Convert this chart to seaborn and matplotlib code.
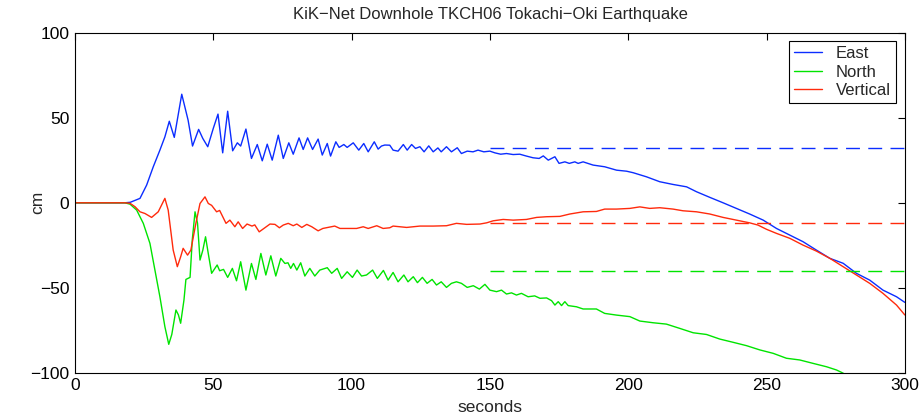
import numpy as np
import pandas as pd
import matplotlib
matplotlib.use("Agg")
import matplotlib.pyplot as plt
import seaborn as sns
from matplotlib.lines import Line2D

# Displacement traces, (seconds, cm) pairs
east = [(0, 0), (18, 0), (20, 0.3), (23.5, 2.6), (25.9, 10.4), (28.3, 21.2), (30.7, 31.0),
        (32.5, 38.8), (34.1, 48.0), (35.9, 38.5), (38.6, 63.9), (40.9, 48.6), (42.5, 33.4),
        (44.7, 43.2), (46.2, 37.9), (48.0, 33.0), (50.0, 43.8), (51.7, 52.2), (53.4, 29.4),
        (55.2, 53.9), (57.0, 30.6), (58.7, 35.3), (59.9, 33.4), (61.8, 43.4), (63.8, 26.1),
        (65.9, 34.3), (67.7, 24.7), (69.5, 34.5), (71.3, 25.1), (73.5, 39.8), (75.3, 26.1),
        (77.3, 35.3), (78.9, 28.6), (81.0, 38.2), (82.5, 31.4), (84.1, 38.2), (85.9, 31.4),
        (87.9, 37.5), (89.4, 28.1), (91.2, 34.9), (92.4, 27.5), (94.3, 35.9), (95.5, 32.6),
        (97.2, 34.3), (98.4, 32.6), (100.6, 35.3), (102.6, 31.0), (104.4, 34.9), (106.0, 30.0),
        (108.2, 35.9), (109.6, 31.6), (110.8, 33.4), (112.0, 34.0), (113.8, 33.9), (115.0, 31.0),
        (116.8, 30.4), (118.7, 34.3), (120.1, 31.0), (121.7, 34.3), (123.1, 32.0), (124.7, 33.0),
        (126.2, 30.0), (127.9, 33.5), (129.5, 30.0), (131.2, 32.3), (132.4, 30.0), (134.3, 33.0),
        (136.1, 30.0), (138.2, 32.4), (139.7, 29.0), (141.8, 30.4), (143.9, 30.0), (145.7, 31.0),
        (147.8, 30.0), (150.0, 30.4), (151.8, 29.4), (153.9, 28.6), (156.0, 29.0), (158.4, 28.4),
        (160.8, 28.6), (163.2, 27.5), (165.6, 26.5), (167.8, 26.1), (169.3, 27.6), (171.1, 25.1),
        (173.5, 27.1), (175.0, 23.2), (177.1, 24.1), (178.7, 23.2), (180.7, 24.1), (181.9, 23.2),
        (183.7, 24.1), (187.3, 22.2), (191.5, 21.2), (195.8, 19.2), (199.4, 18.6), (201.8, 17.7),
        (206.6, 15.3), (211.4, 12.4), (216.2, 10.8), (221.1, 9.4), (224.7, 6.5), (229.5, 3.2),
        (234.3, 0.0), (239.1, -3.3), (243.9, -6.6), (248.8, -10.2), (253.6, -15.1), (258.4, -19.0),
        (263.2, -22.9), (268.0, -27.8), (272.9, -32.7), (277.7, -35.6), (282.5, -41.5),
        (287.3, -45.5), (292.1, -51.4), (297.0, -55.3), (300.0, -58.6)]

north = [(0, 0), (18, 0), (19.9, -0.8), (22.3, -4.3), (24.7, -12.1), (27.1, -23.9), (28.9, -39.6),
         (30.7, -55.3), (32.5, -72.9), (33.9, -83.3), (35.0, -77.5), (36.5, -63.1), (37.4, -66.0),
         (38.2, -70.9), (39.4, -57.2), (40.1, -45.1), (41.6, -43.9), (42.4, -21.9), (43.4, -5.3),
         (44.3, -12.0), (45.2, -33.7), (46.2, -28.0), (47.2, -20.0), (48.2, -30.0), (49.4, -41.5),
         (51.4, -36.6), (52.3, -40.0), (53.7, -39.2), (55.2, -43.9), (56.9, -38.6), (58.4, -45.9),
         (59.9, -34.7), (61.8, -51.4), (63.8, -35.7), (65.4, -45.1), (67.2, -29.8), (69.0, -42.5),
         (70.8, -31.2), (72.6, -43.1), (74.4, -32.7), (75.9, -35.7), (77.0, -35.3), (78.0, -38.6),
         (79.0, -35.7), (80.2, -39.6), (81.6, -35.3), (83.1, -43.1), (84.9, -38.6), (86.7, -43.1),
         (88.5, -39.6), (91.2, -38.2), (92.8, -41.5), (94.8, -38.6), (96.4, -44.5), (98.4, -40.6),
         (100.3, -43.9), (102.0, -39.6), (103.6, -43.1), (105.4, -42.5), (107.6, -39.6),
         (109.3, -44.5), (111.5, -39.8), (113.2, -45.5), (115.0, -41.0), (116.8, -46.5),
         (118.9, -42.5), (120.4, -46.5), (122.3, -43.5), (123.8, -47.0), (125.6, -43.9),
         (127.3, -47.4), (129.1, -45.1), (130.7, -48.4), (132.4, -46.5), (134.3, -49.8),
         (136.1, -47.4), (137.9, -46.5), (139.7, -47.4), (141.8, -49.8), (144.0, -48.8),
         (146.2, -50.8), (148.2, -48.0), (150.0, -51.4), (152.4, -52.3), (154.2, -51.4),
         (156.0, -53.7), (157.8, -53.0), (159.6, -54.3), (161.4, -53.3), (163.8, -55.3),
         (166.2, -54.8), (168.1, -56.2), (170.5, -56.0), (172.3, -57.6), (173.5, -60.2),
         (174.7, -58.2), (175.9, -60.5), (177.1, -58.2), (178.3, -60.5), (181.3, -61.2),
         (183.7, -62.5), (188.5, -62.5), (191.5, -65.1), (195.8, -66.1), (200.6, -67.0),
         (204.2, -69.6), (209.0, -70.6), (213.8, -71.4), (218.6, -73.9), (223.5, -76.5),
         (228.3, -77.5), (233.1, -80.2), (237.9, -82.1), (242.8, -84.1), (247.6, -86.6),
         (252.4, -88.6), (257.2, -91.5), (262.0, -92.5), (266.8, -94.5), (271.7, -96.5),
         (275.3, -98.4), (277.1, -99.8), (278.5, -101.0)]

vertical = [(0, 0), (18, 0), (19.9, -0.3), (21.7, -2.3), (23.5, -5.3), (25.3, -6.3), (27.7, -8.6),
            (30.1, -5.3), (32.5, 2.6), (33.7, -4.3), (35.5, -27.8), (37.0, -37.6), (38.2, -31.8),
            (39.1, -26.8), (40.7, -30.8), (41.9, -27.8), (43.7, -12.1), (45.2, -0.4), (47.0, 3.5),
            (48.2, -0.4), (49.4, -1.5), (51.2, -5.3), (52.3, -4.5), (54.6, -12.1), (56.0, -10.2),
            (57.8, -14.1), (59.0, -11.2), (60.6, -15.1), (62.2, -12.5), (64.0, -13.7), (65.0, -13.0),
            (66.6, -17.1), (68.3, -15.1), (70.5, -12.5), (72.3, -12.7), (73.9, -14.7), (75.3, -13.1),
            (77.1, -12.1), (78.9, -13.5), (80.2, -12.5), (82.0, -14.5), (83.8, -12.7), (85.6, -14.1),
            (87.9, -16.5), (89.6, -15.1), (93.9, -13.7), (95.8, -15.1), (98.2, -15.1),
            (101.8, -15.1), (104.2, -14.1), (106.0, -15.1), (109.1, -13.5), (111.4, -15.1),
            (113.8, -14.7), (115.0, -13.7), (119.9, -14.5), (124.7, -13.7), (129.5, -13.7),
            (134.3, -13.5), (137.9, -12.1), (141.6, -12.7), (146.4, -12.5), (148.8, -11.8),
            (151.2, -10.6), (154.8, -9.8), (158.4, -10.2), (163.2, -9.8), (166.9, -8.6),
            (170.5, -8.2), (175.3, -8.0), (178.9, -6.6), (183.7, -5.3), (188.5, -5.1),
            (191.5, -3.7), (195.8, -3.7), (200.6, -3.3), (204.2, -2.4), (207.8, -3.3),
            (211.4, -2.9), (216.2, -3.7), (219.8, -4.7), (224.7, -5.3), (229.5, -6.6),
            (234.3, -8.6), (239.1, -10.2), (243.9, -11.8), (246.9, -13.1), (250.0, -15.6),
            (253.6, -18.0), (258.4, -20.9), (263.2, -24.9), (268.0, -28.4), (272.9, -32.7),
            (277.7, -37.6), (282.5, -42.5), (287.3, -47.4), (292.1, -53.3), (297.0, -60.2),
            (300.0, -66.0)]

components = ["East", "North", "Vertical"]
line_colors = ["#0b2dff", "#00e400", "#ff2a0c"]

# Static (permanent) offset levels drawn over the late part of the record
static_offset = [32, -40, -12]
static_span = [150, 300]

x_ticks = [0, 50, 100, 150, 200, 250, 300]
y_ticks = [-100, -50, 0, 50, 100]

sns.set_theme(style="white")
plt.rcParams["font.family"] = ["Liberation Sans", "DejaVu Sans"]
plt.rcParams["axes.unicode_minus"] = True

fig = plt.figure(figsize=(9.2, 4.19), dpi=100)
ax = fig.add_axes([0.0815, 0.1105, 0.902, 0.811])

frames = []
for name, pts in zip(components, [east, north, vertical]):
    arr = np.asarray(pts, dtype=float)
    frames.append(pd.DataFrame({"seconds": arr[:, 0], "cm": arr[:, 1], "component": name}))
traces = pd.concat(frames, ignore_index=True)

palette = dict(zip(components, line_colors))

sns.lineplot(data=traces, x="seconds", y="cm", hue="component", palette=palette,
             estimator=None, sort=False, linewidth=1.0, legend=False, ax=ax,
             solid_joinstyle="round")

offsets = pd.DataFrame({
    "seconds": static_span * len(components),
    "cm": np.repeat(static_offset, 2),
    "component": np.repeat(components, 2),
})
sns.lineplot(data=offsets, x="seconds", y="cm", hue="component", palette=palette,
             estimator=None, sort=False, linewidth=1.0, linestyle=(0, (10, 6)),
             legend=False, ax=ax)

ax.set_xlim(0, 300)
ax.set_ylim(-100, 100)
ax.set_xticks(x_ticks)
ax.set_yticks(y_ticks)
ax.tick_params(direction="in", top=True, right=True, length=5, width=0.8,
               labelsize=12.5, colors="black", pad=4)
for sp in ax.spines.values():
    sp.set_color("black")
    sp.set_linewidth(0.8)

fig.text(490 / 920, 1 - 14 / 419, "KiK\u2212Net Downhole TKCH06 Tokachi\u2212Oki Earthquake",
         fontsize=12, ha="center", va="center")
ax.set_xlabel("seconds", fontsize=12.5)
ax.set_ylabel("cm", fontsize=12.5)
ax.xaxis.set_label_coords((490 - 75) / 830, (372.7 - 407) / 339.7)
ax.yaxis.set_label_coords((38 - 75) / 830, 0.5)
ax.xaxis.label.set_va("center")
ax.yaxis.label.set_va("center")

handles = [Line2D([0], [0], color=c, lw=1.0) for c in line_colors]
leg = ax.legend(handles, components, loc="upper right",
                bbox_to_anchor=(896 / 920, 1 - 41 / 419), bbox_transform=fig.transFigure,
                borderaxespad=0, fancybox=False, framealpha=1, edgecolor="black",
                fontsize=12, handlelength=1.65, handletextpad=0.85, labelspacing=0.22,
                borderpad=0.3)
leg.get_frame().set_linewidth(0.8)

fig.savefig("out.png", dpi=100)
